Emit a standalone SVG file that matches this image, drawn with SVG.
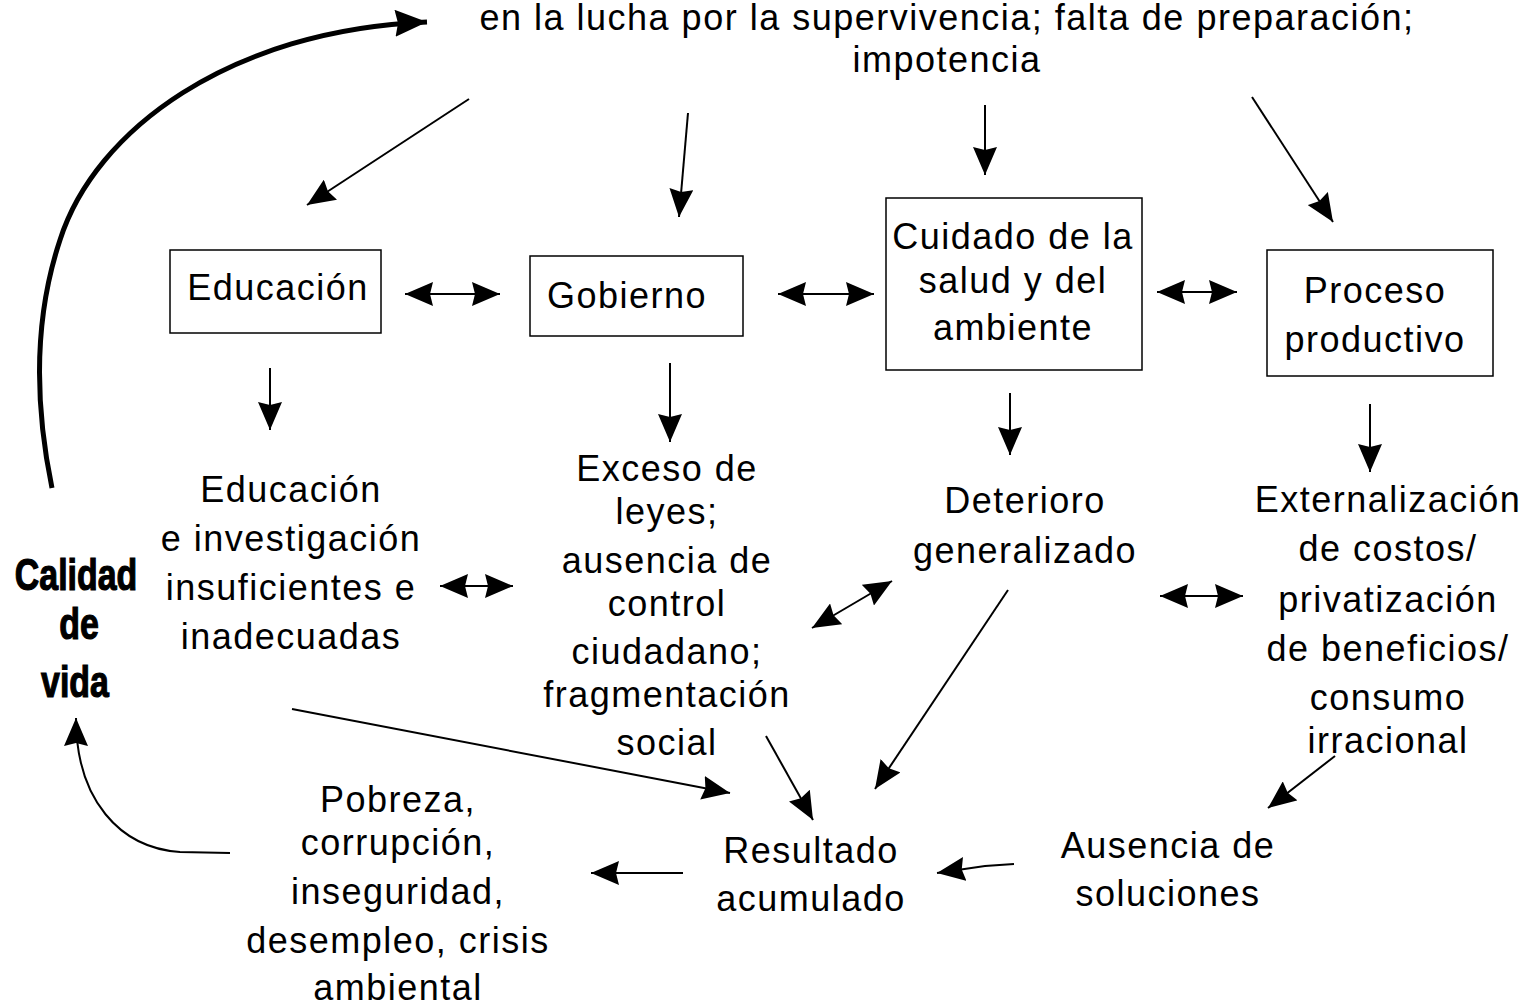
<svg xmlns="http://www.w3.org/2000/svg" width="1528" height="1005" viewBox="0 0 1528 1005">
<style>
text{font-family:"Liberation Sans",Arial,sans-serif;font-size:36px;letter-spacing:1.5px;fill:#000;text-anchor:middle}
.cv{font-family:"Liberation Sans",Arial,sans-serif;font-weight:bold;font-size:44px;letter-spacing:0;stroke:#000;stroke-width:1.2}
.box{fill:#fff;stroke:#000;stroke-width:1.5}
.c{fill:none;stroke:#000;stroke-width:2}
.t{fill:none;stroke:#000;stroke-width:5}
</style>
<defs>
<marker id="ah" viewBox="0 0 28 24" refX="28" refY="12" markerWidth="28" markerHeight="24" markerUnits="userSpaceOnUse" orient="auto-start-reverse"><path d="M0,0 L28,12 L0,24 L3,12 z" fill="#000"/></marker>
<marker id="ahb" viewBox="0 0 32 27" refX="32" refY="13.5" markerWidth="32" markerHeight="27" markerUnits="userSpaceOnUse" orient="auto"><path d="M0,0 L32,13.5 L0,27 L3,13.5 z" fill="#000"/></marker>
</defs>
<rect width="1528" height="1005" fill="#fff"/>
<g id="top">
<text x="947" y="30">en la lucha por la supervivencia; falta de preparación;</text>
<text x="947" y="72">impotencia</text>
</g>
<g id="educacion"><rect class="box" x="170" y="250" width="211" height="83"/><text x="278" y="300">Educación</text></g>
<g id="gobierno"><rect class="box" x="530" y="256" width="213" height="80"/><text x="627" y="308">Gobierno</text></g>
<g id="cuidado"><rect class="box" x="886" y="198" width="256" height="172"/><text x="1013" y="249">Cuidado de la</text><text x="1013" y="293">salud y del</text><text x="1013" y="340">ambiente</text></g>
<g id="proceso"><rect class="box" x="1267" y="250" width="226" height="126"/><text x="1375" y="303">Proceso</text><text x="1375" y="352">productivo</text></g>
<g id="edu-inv"><text x="291" y="502">Educación</text><text x="291" y="551">e investigación</text><text x="291" y="600">insuficientes e</text><text x="291" y="649">inadecuadas</text></g>
<g id="exceso"><text x="667" y="481">Exceso de</text><text x="667" y="524">leyes;</text><text x="667" y="573">ausencia de</text><text x="667" y="616">control</text><text x="667" y="664">ciudadano;</text><text x="667" y="707">fragmentación</text><text x="667" y="755">social</text></g>
<g id="deterioro"><text x="1025" y="513">Deterioro</text><text x="1025" y="563">generalizado</text></g>
<g id="externalizacion"><text x="1388" y="512">Externalización</text><text x="1388" y="561">de costos/</text><text x="1388" y="612">privatización</text><text x="1388" y="661">de beneficios/</text><text x="1388" y="710">consumo</text><text x="1388" y="753">irracional</text></g>
<g id="calidad"><text class="cv" transform="translate(76,590) scale(0.77,1)">Calidad</text><text class="cv" transform="translate(79,639) scale(0.77,1)">de</text><text class="cv" transform="translate(75,697) scale(0.77,1)">vida</text></g>
<g id="pobreza"><text x="398" y="812">Pobreza,</text><text x="398" y="855">corrupción,</text><text x="398" y="904">inseguridad,</text><text x="398" y="953">desempleo, crisis</text><text x="398" y="1000">ambiental</text></g>
<g id="resultado"><text x="811" y="863">Resultado</text><text x="811" y="911">acumulado</text></g>
<g id="ausencia"><text x="1168" y="858">Ausencia de</text><text x="1168" y="906">soluciones</text></g>
<g id="connectors">
<path class="t" d="M52,488 C38,420 30,330 60,240 C95,130 230,30 427,22" marker-end="url(#ahb)"/>
<path class="c" d="M230,853 L180,852 C120,848 76,800 76,718" marker-end="url(#ah)"/>
<line class="c" x1="469" y1="99" x2="307" y2="205" marker-end="url(#ah)"/>
<line class="c" x1="688" y1="113" x2="679" y2="217" marker-end="url(#ah)"/>
<line class="c" x1="985" y1="105" x2="985" y2="175" marker-end="url(#ah)"/>
<line class="c" x1="1252" y1="97" x2="1333" y2="222" marker-end="url(#ah)"/>
<line class="c" x1="405" y1="294" x2="500" y2="294" marker-start="url(#ah)" marker-end="url(#ah)"/>
<line class="c" x1="778" y1="294" x2="874" y2="294" marker-start="url(#ah)" marker-end="url(#ah)"/>
<line class="c" x1="1157" y1="292" x2="1237" y2="292" marker-start="url(#ah)" marker-end="url(#ah)"/>
<line class="c" x1="270" y1="368" x2="270" y2="430" marker-end="url(#ah)"/>
<line class="c" x1="670" y1="363" x2="670" y2="442" marker-end="url(#ah)"/>
<line class="c" x1="1010" y1="393" x2="1010" y2="455" marker-end="url(#ah)"/>
<line class="c" x1="1370" y1="404" x2="1370" y2="472" marker-end="url(#ah)"/>
<line class="c" x1="440" y1="586" x2="513" y2="586" marker-start="url(#ah)" marker-end="url(#ah)"/>
<line class="c" x1="1160" y1="596" x2="1243" y2="596" marker-start="url(#ah)" marker-end="url(#ah)"/>
<line class="c" x1="812" y1="628" x2="892" y2="581" marker-start="url(#ah)" marker-end="url(#ah)"/>
<line class="c" x1="1008" y1="590" x2="875" y2="789" marker-end="url(#ah)"/>
<line class="c" x1="292" y1="709" x2="730" y2="793" marker-end="url(#ah)"/>
<line class="c" x1="766" y1="736" x2="813" y2="820" marker-end="url(#ah)"/>
<line class="c" x1="1335" y1="756" x2="1268" y2="808" marker-end="url(#ah)"/>
<path class="c" d="M1014,864 L985,866 L937,873" marker-end="url(#ah)"/>
<line class="c" x1="683" y1="873" x2="591" y2="873" marker-end="url(#ah)"/>
</g>
</svg>
